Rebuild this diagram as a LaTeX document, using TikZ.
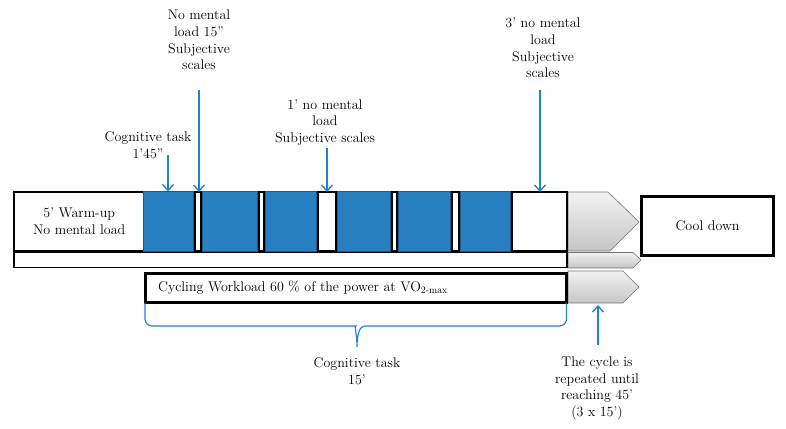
\documentclass[tikz,border=0pt]{standalone}
\usepackage{tikz}
\usetikzlibrary{
  arrows.meta,
  positioning,  % Function "of" (e.g. [right=of x])
  calc,         % Calculations $...$
}
\definecolor{taskblue}{RGB}{40,128,192}
\definecolor{taskedge}{RGB}{28,88,138}
\definecolor{pointblue}{RGB}{30,134,200}
% Box from its top left corner (#3,#4) to its bottom right corner (#5,#6)
\newcommand{\blk}[7][]{
  \pgfmathsetmacro\blkw{#5-#3}
  \pgfmathsetmacro\blkh{#6-#4}
  \node[#1,minimum width=\blkw pt,minimum height=\blkh pt] (#2) at (#3,#4) {#7};
}
\def\mytop{192}
\def\mybot{251}
\tikzset{
  semithick,
  my text/.style={
    font=\fontsize{14}{16.7}\selectfont,
    align=center,
    inner sep=0mm
  },
  my phase/.style={
    draw,
    fill=white,
    line width=2.5pt,
    inner sep=0mm,
    outer sep=0mm,
    anchor=north west,
    rectangle
  },
  my pause/.style={
    my phase
  },
  my strip/.style={
    my phase,
    line width=1.5pt
  },
  my frame/.style={
    my phase,
    line width=3pt
  },
  my task/.style={
    draw=taskedge,
    fill=taskblue,
    line width=0.8pt,
    inner sep=0mm,
    outer sep=0mm,
    anchor=north west,
    rectangle
  },
  my repeat/.style={
    draw=black!55,
    line width=0.6pt,
    top color=gray!10,
    bottom color=gray!45
  },
  my pointer/.style={
    draw=pointblue,
    line width=1.4pt,
    -{Straight Barb[length=6pt,width=11pt]}
  },
  my brace/.style={
    draw=pointblue,
    line width=1.2pt
  }
}

\begin{document}
\begin{tikzpicture}[x=1pt,y=-1pt]
\useasboundingbox (0,0) rectangle (786,428);
% repeat chevrons
\path[my repeat] (568,\mytop) -- (608,\mytop) -- (639,222) -- (610,\mybot) -- (568,\mybot) -- cycle;
\path[my repeat] (568,252.5) -- (633,252.5) -- (641,260) -- (633,268) -- (568,268) -- cycle;
\path[my repeat] (568,271) -- (623,271) -- (639,287) -- (623,303) -- (568,303) -- cycle;
% session row
\blk[my phase,my text]{warmup}{14}{\mytop}{144.5}{\mybot}{5' Warm-up\\No mental load}
\blk[my pause]{gap1}{194.25}{\mytop}{200.75}{\mybot}{}
\blk[my pause]{gap2}{258.25}{\mytop}{263.75}{\mybot}{}
\blk[my pause]{gap3}{317.25}{\mytop}{335.75}{\mybot}{}
\blk[my pause]{gap4}{391.25}{\mytop}{396.75}{\mybot}{}
\blk[my pause]{gap5}{451.25}{\mytop}{458.75}{\mybot}{}
\blk[my pause]{endbox}{511.25}{\mytop}{567}{\mybot}{}
\blk[my task]{blue1}{143}{191.5}{193}{251.5}{}
\blk[my task]{blue2}{202}{191.5}{257}{251.5}{}
\blk[my task]{blue3}{265}{191.5}{316}{251.5}{}
\blk[my task]{blue4}{337}{191.5}{390}{251.5}{}
\blk[my task]{blue5}{398}{191.5}{450}{251.5}{}
\blk[my task]{blue6}{460}{191.5}{510}{251.5}{}
\blk[my strip]{strip}{14}{252.5}{567}{267.5}{}
\blk[my frame]{cycle}{145}{273}{566.5}{302.5}{}
\node[my text,anchor=west] (cyclelabel) at ([xshift=13pt]cycle.west)
  {Cycling Workload 60 \% of the power at VO\textsubscript{2-max}};
\blk[my frame,my text]{cooldown}{641.5}{196.5}{773.5}{255.5}{Cool down}
% notes
\node[my text] (tasknote)  at (148,145.5) {Cognitive task\\1'45''};
\node[my text] (pausenote) at (199,40)    {No mental\\load 15''\\Subjective\\scales};
\node[my text] (breaknote) at (325,122.5) {1' no mental\\load\\Subjective scales};
\node[my text] (restnote)  at (543,48)    {3' no mental\\load\\Subjective\\scales};
\node[my text] (cognote)   at (357,371.5) {Cognitive task\\15'};
\node[my text] (cyclenote) at (597,388.5) {The cycle is\\repeated until\\reaching 45'\\(3 x 15')};
\coordinate (p1)  at (168,155);
\coordinate (p2)  at (199,90);
\coordinate (p3)  at (327,148);
\coordinate (p4)  at (540,90);
\coordinate (p5)  at (598,345);
\coordinate (rep) at (598,305);
\draw[my pointer] (p1) -- (blue1.north);
\draw[my pointer] (p2) -- (p2 |- gap1.north);
\draw[my pointer] (p3) -- (p3 |- gap3.north);
\draw[my pointer] (p4) -- (p4 |- endbox.north);
\draw[my pointer] (p5) -- (rep);
\draw[my brace] [rounded corners=7pt] (cycle.south west) |- (349,326)
  [sharp corners] .. controls (354,326) and (357,333) .. (357,347)
  .. controls (357,333) and (360,326) .. (365,326)
  [rounded corners=7pt] -| (cycle.south east);
\end{tikzpicture}
\end{document}
